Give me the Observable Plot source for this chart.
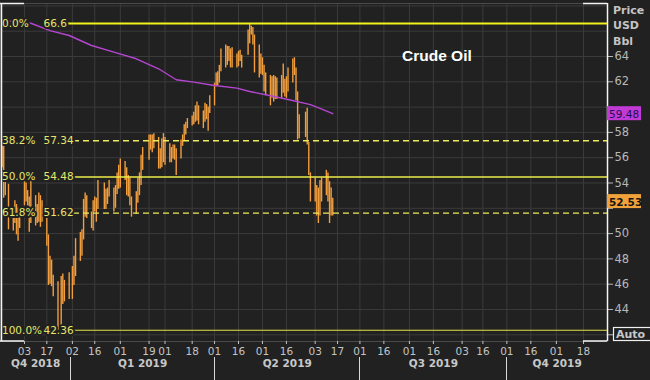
<!DOCTYPE html>
<html><head><meta charset="utf-8">
<script src="https://cdn.jsdelivr.net/npm/d3@7"></script>
<script src="https://cdn.jsdelivr.net/npm/@observablehq/plot@0.6"></script>
<style>
html,body{margin:0;padding:0;background:#212121;}
#chart{width:650px;height:380px;overflow:hidden;}
</style></head><body><div id="chart"></div>
<script>
// ---- data ----
const dates = ["2018-11-19","2018-11-20","2018-11-21","2018-11-23","2018-11-26","2018-11-27","2018-11-28","2018-11-29","2018-11-30",
"2018-12-03","2018-12-04","2018-12-05","2018-12-06","2018-12-07","2018-12-10","2018-12-11","2018-12-12","2018-12-13","2018-12-14",
"2018-12-17","2018-12-18","2018-12-19","2018-12-20","2018-12-21","2018-12-24","2018-12-26","2018-12-27","2018-12-28","2018-12-31",
"2019-01-02","2019-01-03","2019-01-04","2019-01-07","2019-01-08","2019-01-09","2019-01-10","2019-01-11","2019-01-14","2019-01-15",
"2019-01-16","2019-01-17","2019-01-18","2019-01-22","2019-01-23","2019-01-24","2019-01-25","2019-01-28","2019-01-29","2019-01-30",
"2019-01-31","2019-02-01","2019-02-04","2019-02-05","2019-02-06","2019-02-07","2019-02-08","2019-02-11","2019-02-12","2019-02-13",
"2019-02-14","2019-02-15","2019-02-19","2019-02-20","2019-02-21","2019-02-22","2019-02-25","2019-02-26","2019-02-27","2019-02-28",
"2019-03-01","2019-03-04","2019-03-05","2019-03-06","2019-03-07","2019-03-08","2019-03-11","2019-03-12","2019-03-13","2019-03-14",
"2019-03-15","2019-03-18","2019-03-19","2019-03-20","2019-03-21","2019-03-22","2019-03-25","2019-03-26","2019-03-27","2019-03-28",
"2019-03-29","2019-04-01","2019-04-02","2019-04-03","2019-04-04","2019-04-05","2019-04-08","2019-04-09","2019-04-10","2019-04-11",
"2019-04-12","2019-04-15","2019-04-16","2019-04-17","2019-04-18","2019-04-22","2019-04-23","2019-04-24","2019-04-25","2019-04-26",
"2019-04-29","2019-04-30","2019-05-01","2019-05-02","2019-05-03","2019-05-06","2019-05-07","2019-05-08","2019-05-09","2019-05-10",
"2019-05-13","2019-05-14","2019-05-15","2019-05-16","2019-05-17","2019-05-20","2019-05-21","2019-05-22","2019-05-23","2019-05-24",
"2019-05-28","2019-05-29","2019-05-30","2019-05-31","2019-06-03","2019-06-04","2019-06-05","2019-06-06","2019-06-07","2019-06-10",
"2019-06-11","2019-06-12","2019-06-13","2019-06-14"];
const highs = [57.6,56.9,54.8,53.9,52.1,52.6,52.3,52.0,52.0,
54.5,54.0,53.4,52.9,54.2,53.0,52.3,53.2,53.0,52.6,
51.4,49.9,48.2,47.9,46.7,46.2,46.6,46.8,46.3,46.9,
47.4,48.2,49.6,50.1,50.3,52.7,53.2,53.0,51.7,52.6,
52.9,52.8,54.2,54.0,53.5,53.6,54.2,53.6,53.8,54.8,
55.4,55.9,55.7,55.2,54.6,54.4,52.9,53.3,54.4,54.8,
56.2,56.8,57.8,57.8,57.8,57.9,57.6,56.7,57.5,57.9,
57.6,57.1,56.8,57.0,57.0,56.7,57.4,57.8,58.6,58.8,
59.1,59.3,59.6,60.1,60.4,60.1,59.7,60.3,60.2,60.0,
60.9,61.9,62.7,62.8,63.3,64.6,64.9,64.8,64.8,64.6,
64.7,64.2,64.4,64.5,64.1,66.1,66.6,66.4,66.3,65.7,
64.9,64.2,63.9,63.3,62.7,62.5,62.4,62.5,62.4,62.3,
62.5,63.4,62.2,62.4,63.1,63.8,63.9,63.1,61.2,59.4,
59.6,59.9,57.2,54.8,54.4,53.8,53.6,54.2,54.4,55.0,
54.8,54.1,53.6,52.8];
const lows = [55.2,52.8,53.0,50.3,50.2,50.8,49.9,49.4,50.4,
52.2,52.5,52.2,50.1,50.8,50.6,50.8,50.9,50.5,50.9,
49.0,45.9,46.0,45.8,45.0,42.36,42.6,44.4,44.6,44.8,
44.8,45.9,46.6,47.8,48.2,49.5,51.3,51.2,50.4,50.2,
51.7,50.9,51.9,51.9,51.9,52.3,52.9,51.7,52.0,53.1,
53.5,53.6,54.2,53.0,52.9,52.2,51.3,51.5,52.4,53.0,
53.8,55.0,55.8,56.6,56.4,56.7,55.1,55.1,55.2,55.6,
55.4,55.6,55.6,55.9,55.8,54.6,55.9,56.9,57.3,57.8,
58.3,58.5,58.6,58.8,58.9,58.6,58.3,58.8,59.0,58.1,
59.5,60.1,61.6,61.7,61.9,62.8,63.1,63.3,63.6,63.1,
63.1,63.1,63.2,63.6,63.1,64.1,65.0,65.7,64.9,62.7,
62.3,62.6,62.5,61.2,60.9,60.1,60.7,60.4,60.6,60.6,
60.7,61.1,60.8,60.7,61.2,61.9,62.5,60.5,57.4,57.5,
57.6,57.0,54.6,52.5,52.5,51.4,50.8,51.4,52.5,53.0,
52.5,50.8,51.4,51.4];

const maDates = ["2018-11-19","2018-12-07","2018-12-19","2018-12-31","2019-01-14","2019-01-28","2019-02-11","2019-02-25",
"2019-03-08","2019-03-19","2019-04-01","2019-04-15","2019-04-23","2019-05-06","2019-05-17","2019-05-31","2019-06-06","2019-06-14"];
const maValues = [66.85,66.63,66.05,65.66,64.87,64.34,63.82,63.03,62.16,61.97,61.71,61.5,61.23,60.9,60.6,60.2,59.9,59.48];

const fibPcts = ["0.0%","38.2%","50.0%","61.8%","100.0%"];
const fibValues = ["66.6","57.34","54.48","51.62","42.36"];

const xTickDates = ["2018-12-03","2018-12-17","2019-01-02","2019-01-16","2019-02-01","2019-02-19","2019-03-01","2019-03-18",
"2019-04-01","2019-04-16","2019-05-01","2019-05-16","2019-06-03","2019-06-17","2019-07-01","2019-07-16","2019-08-01","2019-08-16",
"2019-09-03","2019-09-16","2019-10-01","2019-10-16","2019-11-01","2019-11-18"];
const quarterNames = ["Q4 2018","Q1 2019","Q2 2019","Q3 2019","Q4 2019"];
const quarterStarts = ["2018-10-01","2019-01-01","2019-04-01","2019-07-01","2019-10-01"];
const yTickValues = [42,44,46,48,50,52,54,56,58,60,62,64];
const yHiddenLabels = [42,52,60];
const yGridValues = [42,44,46,48,50,52,54,56,58,60,62,64,66,68];
const lastPrice = "52.53";
const maLast = "59.48";
const title = "Crude Oil";
const unitLines = ["Price","USD","Bbl"];

// ---- build ----
const parse = d3.utcParse("%Y-%m-%d");
const bars = dates.map((d,i)=>({date: parse(d), high: highs[i], low: lows[i]}));
const ma = maDates.map((d,i)=>({date: parse(d), value: maValues[i]}));
const fib = fibPcts.map((p,i)=>({pct: p, label: fibValues[i], value: +fibValues[i]}));
const xTicks = xTickDates.map(parse);
const xDomain = [parse("2018-11-18"), parse("2019-12-03")];
const yDomain = [41.47, 68.19];
const quarters = quarterStarts.map((s,i)=>{
  const a = parse(s); const b = d3.utcMonth.offset(a, 3);
  const lo = Math.max(+a, +xDomain[0]), hi = Math.min(+b, +xDomain[1]);
  return {name: quarterNames[i], start: a, mid: new Date((lo+hi)/2)};
});
const BG = "#212121";
const FONT = "'DejaVu Sans', Verdana, sans-serif";

const chart = Plot.plot({
  width: 650, height: 380,
  marginTop: 3, marginBottom: 39, marginLeft: 0, marginRight: 43,
  style: {background: BG, fontFamily: FONT, fontSize: "11px", color: "#bcbcbc"},
  x: {type: "utc", domain: xDomain},
  y: {domain: yDomain},
  marks: [
    Plot.gridY(yGridValues, {stroke: "#3b3b3b", strokeOpacity: 1}),
    Plot.gridX(xTicks, {stroke: "#3b3b3b", strokeOpacity: 1}),
    Plot.frame({stroke: "#4a4a4a"}),
    Plot.ruleX(bars, {x: "date", y1: "low", y2: "high", stroke: "#f29e3e", strokeWidth: 1.4}),
    Plot.line(ma, {x: "date", y: "value", stroke: "#b446d2", strokeWidth: 1.4}),
    Plot.ruleY(fib.filter(d => d.pct === "0.0%"), {y: "value", stroke: "#f2f21e", strokeWidth: 2, insetLeft: 67}),
    Plot.ruleY(fib.filter(d => d.pct === "38.2%" || d.pct === "61.8%"), {y: "value", stroke: "#ecec5a", strokeWidth: 1.3, strokeDasharray: "6,4", insetLeft: 73}),
    Plot.ruleY(fib.filter(d => d.pct === "50.0%"), {y: "value", stroke: "#ecec4a", strokeWidth: 1.4, insetLeft: 73}),
    Plot.ruleY(fib.filter(d => d.pct === "100.0%"), {y: "value", stroke: "#e2e24a", strokeWidth: 1.2, insetLeft: 73}),
    Plot.text(fib, {y: "value", text: "pct", frameAnchor: "left", textAnchor: "start", dx: 1.5, fontSize: 10.5,
      fill: "#e6e66a", stroke: BG, strokeWidth: 4, paintOrder: "stroke"}),
    Plot.text(fib, {y: "value", text: "label", frameAnchor: "left", textAnchor: "start", dx: 43, fontSize: 10.5,
      fill: "#e6e66a", stroke: BG, strokeWidth: 4, paintOrder: "stroke"}),
    Plot.axisX({ticks: xTicks, tickFormat: d3.utcFormat("%d"), tickSize: 3, tickPadding: 3, fontSize: 10.5, color: "#c4c4c4", label: null}),
    Plot.axisY({anchor: "right", ticks: yTickValues, tickFormat: d => yHiddenLabels.includes(d) ? "" : String(d), tickSize: 5, tickPadding: 2, fontSize: 11.5, color: "#b8b8b8", label: null}),
    Plot.text(quarters, {x: "mid", text: "name", frameAnchor: "bottom", dy: 25, fontWeight: "bold", fontSize: 10.5, fill: "#c8c8c8"})
  ]
});
document.getElementById("chart").appendChild(chart);

// ---- decorations via the chart's own scales ----
const X = chart.scale("x"), Y = chart.scale("y");
const svg = d3.select(chart);
const xLeft = X.apply(xDomain[0]), xRight = X.apply(xDomain[1]);
const yTop = Y.apply(yDomain[1]), yBottom = Y.apply(yDomain[0]);
const xFirst = X.apply(xTicks[0]), xLast = X.apply(xTicks[xTicks.length-1]);
const deco = svg.append("g").attr("text-anchor", "start");
deco.append("line").attr("x1", xLeft+1.5).attr("x2", xLeft+1.5).attr("y1", yTop).attr("y2", yBottom).attr("stroke", "#f4f4f4").attr("stroke-width", 1.5);
deco.append("line").attr("x1", xRight+0.5).attr("x2", xRight+0.5).attr("y1", yTop).attr("y2", yBottom).attr("stroke", "#f4f4f4").attr("stroke-width", 1.5);
[[xLeft, xFirst], [xLast, xRight]].forEach(([a,b]) => {
  [yTop+0.5, yBottom].forEach(yy => deco.append("line").attr("x1", a).attr("x2", b).attr("y1", yy).attr("y2", yy).attr("stroke", "#f4f4f4").attr("stroke-width", 1.5));
});
quarters.forEach(q => {
  if (q.start > xDomain[0] && q.start < xDomain[1]) {
    const xx = Math.round(X.apply(q.start)) + 0.5;
    deco.append("line").attr("x1", xx).attr("x2", xx).attr("y1", yBottom+16).attr("y2", 380).attr("stroke", "#d8d8d8").attr("stroke-width", 1);
  }
});
deco.append("text").attr("x", 402).attr("y", 55).attr("dominant-baseline", "central").attr("text-anchor", "start")
  .attr("font-family", "'Liberation Sans', Arial, sans-serif").attr("font-weight", "bold").attr("font-size", 15.5)
  .attr("fill", "#ffffff").text(title);
unitLines.forEach((t,i) => deco.append("text").attr("x", xRight+6).attr("y", 10 + i*15.5).attr("dominant-baseline", "central").attr("text-anchor", "start")
  .attr("font-family", FONT).attr("font-weight", "bold").attr("font-size", 11).attr("fill", "#c4c4c4").text(t));
function tag(val, fill, textFill, bold) {
  const yy = Y.apply(+val);
  deco.append("rect").attr("x", xRight).attr("y", yy-7).attr("width", 34).attr("height", 14).attr("fill", fill);
  deco.append("text").attr("x", xRight+2).attr("y", yy+0.5).attr("dominant-baseline", "central").attr("text-anchor", "start")
    .attr("font-family", FONT).attr("font-size", 10.5).attr("font-weight", bold ? "bold" : "normal")
    .attr("fill", textFill).text(val);
}
tag(maLast, "#c23ad6", "#241050", false);
tag(lastPrice, "#f2a23a", "#151515", true);
deco.append("rect").attr("x", xRight+6.5).attr("y", yBottom-13.5).attr("width", 50).attr("height", 13).attr("fill", BG).attr("stroke", "#f0f0f0").attr("stroke-width", 1.2);
deco.append("text").attr("x", xRight+9).attr("y", yBottom-6.5).attr("dominant-baseline", "central").attr("text-anchor", "start")
  .attr("font-family", FONT).attr("font-weight", "bold").attr("font-size", 11).attr("fill", "#c8c8c8").text("Auto");
</script>
</body></html>
